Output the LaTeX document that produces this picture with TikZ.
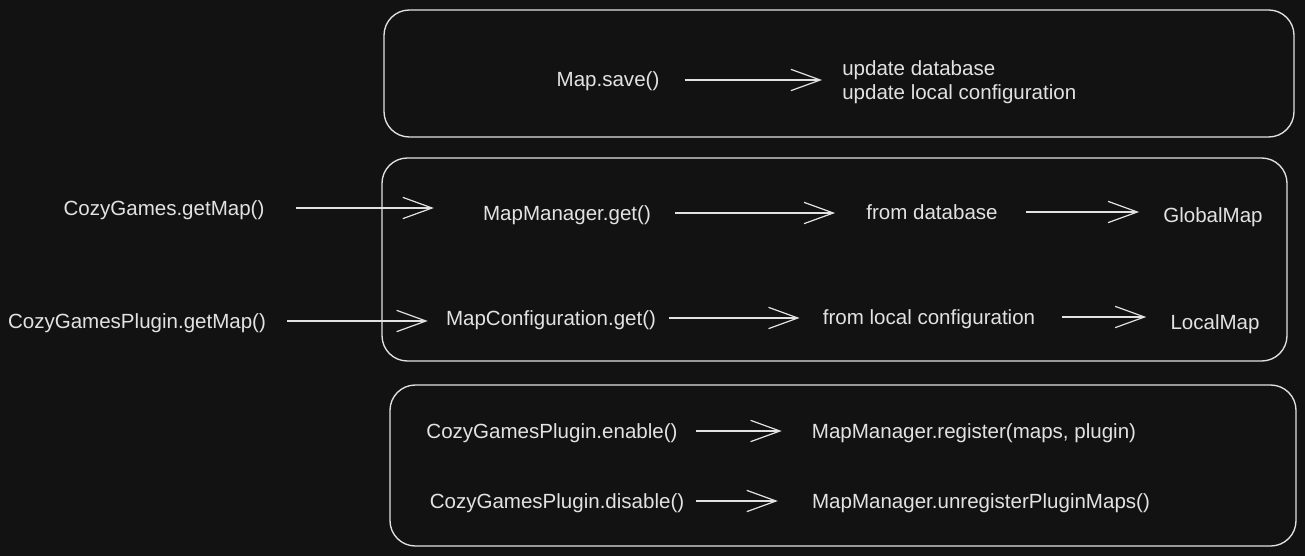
\documentclass[tikz,border=0pt]{standalone}
\usepackage{fontspec}
\setmainfont{Liberation Sans}
\usetikzlibrary{arrows.meta}
\definecolor{bg}{HTML}{121212}
\definecolor{fg}{HTML}{E2E2E2}
\begin{document}
\begin{tikzpicture}[x=0.75pt,y=-0.75pt,
  lbl/.style={inner sep=0pt, text=fg, font=\fontsize{15.4pt}{18pt}\selectfont, text height=10.5pt, text depth=0pt},
  boxst/.style={draw=fg, line width=1pt, rounded corners=19pt},
  arr/.style={draw=fg, line width=0.9pt, -{Straight Barb[length=22pt,width=16pt,line width=0.9pt]}}]
\fill[bg] (0,0) rectangle (1305,556);
\useasboundingbox (0,0) rectangle (1305,556);
% boxes
\draw[boxst] (384,10) rectangle (1294,137);
\draw[boxst] (382,158) rectangle (1287,361);
\draw[boxst] (390,385) rectangle (1296,546);
% texts
\node[lbl] (save) at (608,80) {Map.save()};
\node[lbl,anchor=west] (upd1) at (842,69) {update database};
\node[lbl,anchor=west] (upd2) at (842,93) {update local configuration};
\node[lbl] (cg) at (164,208) {CozyGames.getMap()};
\node[lbl] (mmget) at (567,213) {MapManager.get()};
\node[lbl] (fdb) at (932,212) {from database};
\node[lbl] (gm) at (1213,215) {GlobalMap};
\node[lbl] (cgp) at (137,321) {CozyGamesPlugin.getMap()};
\node[lbl] (mcget) at (551,318) {MapConfiguration.get()};
\node[lbl] (flc) at (929,317) {from local configuration};
\node[lbl] (lm) at (1215,322) {LocalMap};
\node[lbl] (en) at (552,431) {CozyGamesPlugin.enable()};
\node[lbl] (reg) at (974,431) {MapManager.register(maps, plugin)};
\node[lbl] (dis) at (557,501) {CozyGamesPlugin.disable()};
\node[lbl] (unreg) at (981,501) {MapManager.unregisterPluginMaps()};
% arrows
\draw[arr, shorten <=18.75pt, shorten >=15pt] (save.east) -- (save.east -| upd1.west);
\draw[arr, shorten <=23.25pt, shorten >=36.75pt] (cg.east) -- (cg.east -| mmget.west);
\draw[arr, shorten <=18pt, shorten >=23.25pt] (mmget.east) -- (mmget.east -| fdb.west);
\draw[arr, shorten <=21pt, shorten >=18pt] (fdb.east) -- (fdb.east -| gm.west);
\draw[arr, shorten <=15.75pt, shorten >=13.5pt] (cgp.east) -- (cgp.east -| mcget.west);
\draw[arr, shorten <=9.75pt, shorten >=17.25pt] (mcget.east) -- (mcget.east -| flc.west);
\draw[arr, shorten <=20.25pt, shorten >=18pt] (flc.east) -- (flc.east -| lm.west);
\draw[arr, shorten <=13.5pt, shorten >=22.5pt] (en.east) -- (en.east -| reg.west);
\draw[arr, shorten <=8.25pt, shorten >=25.5pt] (dis.east) -- (dis.east -| unreg.west);
\end{tikzpicture}
\end{document}
